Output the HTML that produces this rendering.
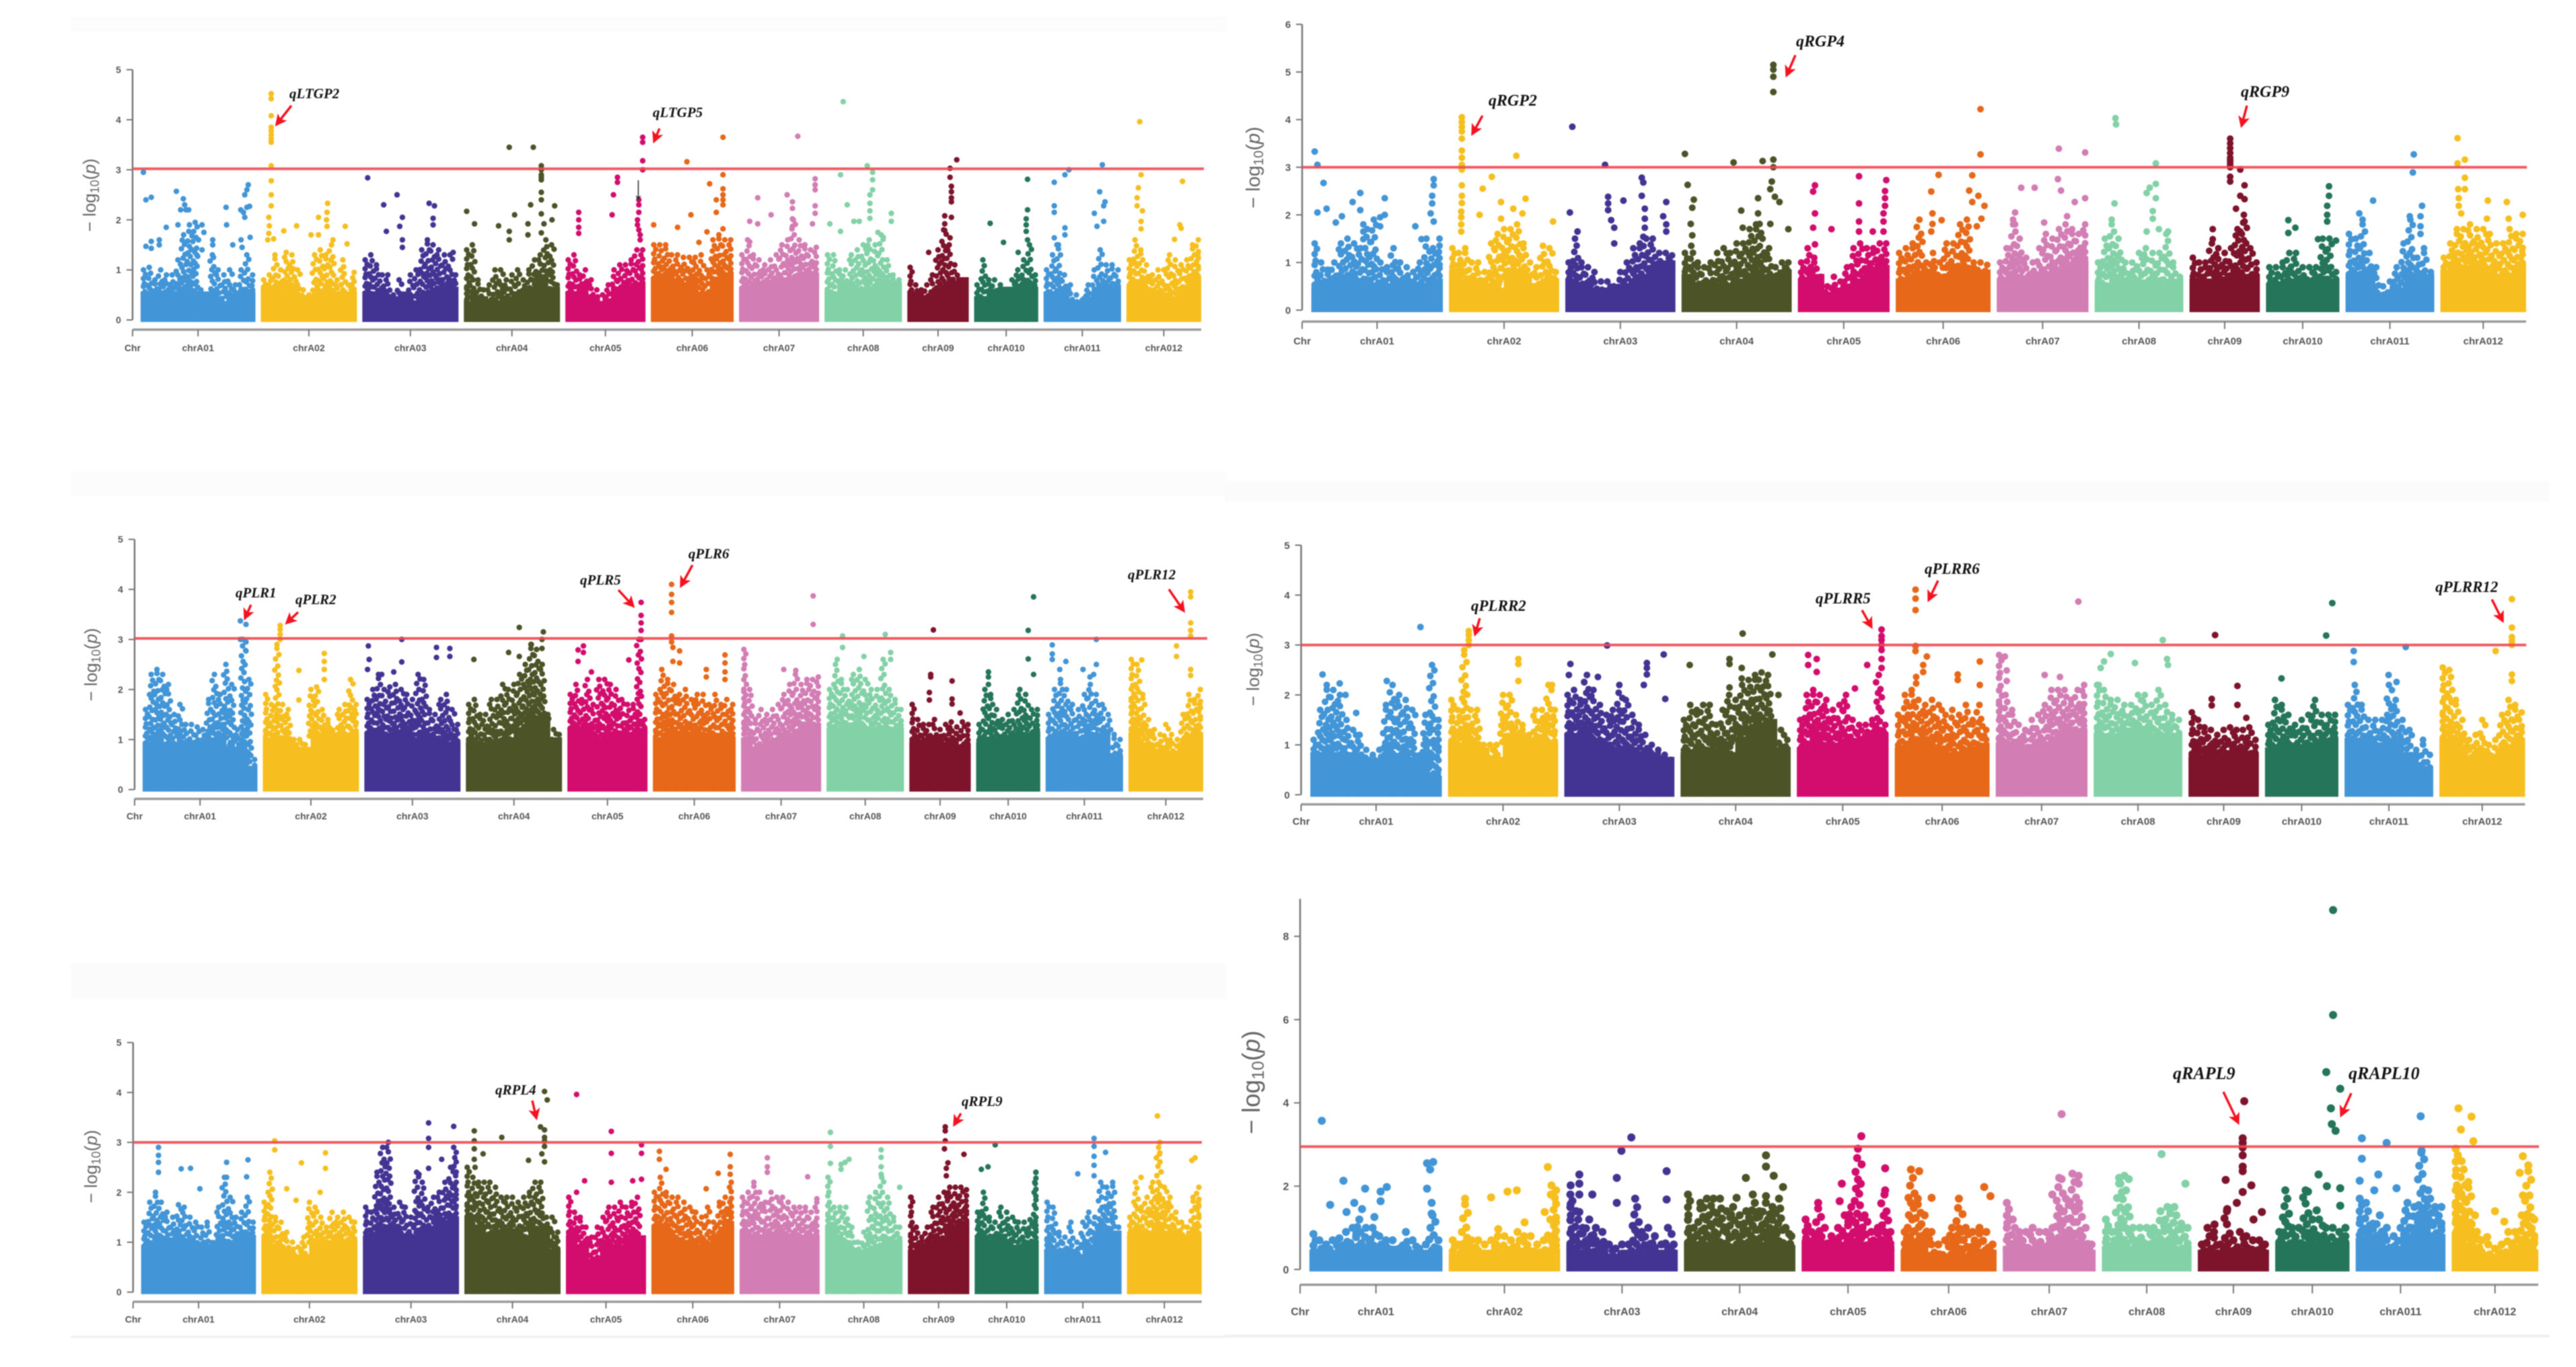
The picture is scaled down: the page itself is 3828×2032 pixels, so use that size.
<!DOCTYPE html>
<html lang="en">
<head>
<meta charset="utf-8">
<title>Manhattan plots</title>
<style>
html,body{margin:0;padding:0;background:#fff;}
#figure{display:block;width:3828px;height:2032px;filter:blur(0.7px);}
.q{font-family:"Liberation Serif",serif;font-weight:bold;font-style:italic;fill:#111;}
.yt{font-family:"Liberation Sans",sans-serif;fill:#666;}
.tk{font-family:"Liberation Sans",sans-serif;font-weight:bold;fill:#555;}
.arr{stroke:#f5121f;stroke-width:3.5;fill:none;}
</style>
</head>
<body>
<svg id="figure" xmlns="http://www.w3.org/2000/svg" width="3828" height="2032" viewBox="0 0 3828 2032">
<defs>
<marker id="ah" markerWidth="5" markerHeight="5" refX="4" refY="2.5" orient="auto"><path d="M0,0L5,2.5L0,5L1.2,2.5Z" fill="#f5121f"/></marker>
<marker id="ak" markerWidth="5" markerHeight="5" refX="4" refY="2.5" orient="auto"><path d="M0,0L5,2.5L0,5L1.2,2.5Z" fill="#333"/></marker>
</defs>
<rect width="3828" height="2032" fill="#fff"/>
<rect x="105" y="25" width="1717" height="22" fill="#fcfcfc"/>
<rect x="105" y="700" width="1717" height="38" fill="#fcfcfc"/>
<rect x="1820" y="715" width="1968" height="31" fill="#fbfbfb"/>
<rect x="105" y="1432" width="1717" height="53" fill="#fbfbfb"/>
<rect x="105" y="1985" width="1717" height="4" fill="#f2f2f2"/>
<rect x="1820" y="1984" width="1968" height="4" fill="#efefef"/>

<g id="panels"></g>

<g>
<text class="yt" font-size="26" transform="translate(142,290) rotate(-90)" text-anchor="middle">− log<tspan font-size="18" dy="5">10</tspan><tspan dy="-5">(</tspan><tspan font-style="italic">p</tspan>)</text>
<text class="yt" font-size="29" transform="translate(1872,249) rotate(-90)" text-anchor="middle">− log<tspan font-size="20" dy="5">10</tspan><tspan dy="-5">(</tspan><tspan font-style="italic">p</tspan>)</text>
<text class="yt" font-size="26" transform="translate(144,988) rotate(-90)" text-anchor="middle">− log<tspan font-size="18" dy="5">10</tspan><tspan dy="-5">(</tspan><tspan font-style="italic">p</tspan>)</text>
<text class="yt" font-size="26" transform="translate(1871,995) rotate(-90)" text-anchor="middle">− log<tspan font-size="18" dy="5">10</tspan><tspan dy="-5">(</tspan><tspan font-style="italic">p</tspan>)</text>
<text class="yt" font-size="26" transform="translate(144,1734) rotate(-90)" text-anchor="middle">− log<tspan font-size="18" dy="5">10</tspan><tspan dy="-5">(</tspan><tspan font-style="italic">p</tspan>)</text>
<text class="yt" font-size="37" transform="translate(1872,1609) rotate(-90)" text-anchor="middle">− log<tspan font-size="25" dy="6">10</tspan><tspan dy="-6">(</tspan><tspan font-style="italic">p</tspan>)</text>
</g>

<g>
<text class="q" x="430" y="146" font-size="21">qLTGP2</text>
<text class="q" x="970" y="174" font-size="21">qLTGP5</text>
<line class="arr" x1="433" y1="157" x2="411" y2="185" marker-end="url(#ah)"/>
<line class="arr" x1="980" y1="191" x2="972" y2="210" marker-end="url(#ah)"/>
<line x1="948.5" y1="268" x2="948.5" y2="297" stroke="#333" stroke-width="1.6" marker-end="url(#ak)"/>

<text class="q" x="2212" y="157" font-size="24">qRGP2</text>
<text class="q" x="2669" y="69" font-size="24">qRGP4</text>
<text class="q" x="3330" y="144" font-size="24">qRGP9</text>
<line class="arr" x1="2203" y1="172" x2="2188" y2="199" marker-end="url(#ah)"/>
<line class="arr" x1="2668" y1="82" x2="2655" y2="112" marker-end="url(#ah)"/>
<line class="arr" x1="3339" y1="157" x2="3331" y2="187" marker-end="url(#ah)"/>

<text class="q" x="350" y="888" font-size="21">qPLR1</text>
<text class="q" x="439" y="898" font-size="21">qPLR2</text>
<text class="q" x="862" y="869" font-size="21">qPLR5</text>
<text class="q" x="1023" y="830" font-size="21">qPLR6</text>
<text class="q" x="1676" y="861" font-size="21">qPLR12</text>
<line class="arr" x1="373" y1="899" x2="364" y2="919" marker-end="url(#ah)"/>
<line class="arr" x1="443" y1="910" x2="426" y2="926" marker-end="url(#ah)"/>
<line class="arr" x1="919" y1="877" x2="941" y2="901" marker-end="url(#ah)"/>
<line class="arr" x1="1029" y1="840" x2="1012" y2="871" marker-end="url(#ah)"/>
<line class="arr" x1="1737" y1="876" x2="1759" y2="908" marker-end="url(#ah)"/>

<text class="q" x="2186" y="908" font-size="23">qPLRR2</text>
<text class="q" x="2698" y="897" font-size="23">qPLRR5</text>
<text class="q" x="2860" y="853" font-size="23">qPLRR6</text>
<text class="q" x="3619" y="880" font-size="23">qPLRR12</text>
<line class="arr" x1="2199" y1="919" x2="2192" y2="943" marker-end="url(#ah)"/>
<line class="arr" x1="2767" y1="907" x2="2781" y2="932" marker-end="url(#ah)"/>
<line class="arr" x1="2880" y1="863" x2="2866" y2="892" marker-end="url(#ah)"/>
<line class="arr" x1="3703" y1="891" x2="3719" y2="923" marker-end="url(#ah)"/>

<text class="q" x="736" y="1627" font-size="21">qRPL4</text>
<text class="q" x="1429" y="1644" font-size="21">qRPL9</text>
<line class="arr" x1="791" y1="1636" x2="797" y2="1662" marker-end="url(#ah)"/>
<line class="arr" x1="1428" y1="1655" x2="1418" y2="1672" marker-end="url(#ah)"/>

<text class="q" x="3229" y="1604" font-size="26">qRAPL9</text>
<text class="q" x="3490" y="1604" font-size="26">qRAPL10</text>
<line class="arr" x1="3304" y1="1623" x2="3326" y2="1669" marker-end="url(#ah)"/>
<line class="arr" x1="3494" y1="1625" x2="3479" y2="1658" marker-end="url(#ah)"/>
</g>
</svg>

<script>
const chrNames=['chrA01','chrA02','chrA03','chrA04','chrA05','chrA06','chrA07','chrA08','chrA09','chrA010','chrA011','chrA012'];
const chrLengths=[43,36,36,36,30,31,30,29,23,24,29,28];
const chrColors=['#4295d6','#f6bf1f','#433494','#4c5327','#d30d6d','#e66818','#d37db5','#83d1a7','#7d142c','#24755a','#4295d6','#f6bf1f'];

const ltgpTicks=[0,1,2,3,4,5];
const ltgpTops=[
[1.0,1.05,.8,1.0,.9,.9,1.2,1.7,1.9,1.95,.6,.4,1.3,1.0,.9,1.0,.7,1.0,1.3,.9],
[.8,.9,1.3,1.0,1.35,1.3,1.0,.6,.5,1.3,1.4,1.3,1.5,.8,1.2,.7,.95],
[1.2,1.3,1.1,.9,.9,.5,.8,.4,.9,1.0,1.4,1.6,1.5,1.4,1.3,1.3,.9],
[1.4,1.5,.8,.6,.7,1.0,1.0,.8,.9,1.0,.8,1.0,1.2,1.3,1.6,1.5,.7],
[1.2,1.3,.9,1.0,.8,.6,.5,.7,1.0,1.1,1.1,1.2,1.4,1.4],
[1.5,1.5,1.5,1.3,1.3,1.25,1.25,1.25,1.3,1.0,1.6,1.7,1.6,1.6],
[1.3,1.6,1.3,1.2,1.1,1.2,1.3,1.5,1.6,2.0,1.6,1.5,1.4,1.45],
[1.3,1.3,1.0,1.0,1.3,1.4,1.5,1.6,1.5,1.7,1.2,.9,.8],
[1.05,.7,.6,.7,.9,1.4,1.8,1.5,1.1,.8,.7],
[.7,1.2,.8,.8,.7,.6,.8,1.0,1.2,1.5,.9],
[1.0,1.3,1.5,.9,.7,.5,.4,.7,1.0,1.4,1.1,1.1,1.0],
[1.2,1.6,1.4,1.1,.9,1.0,1.0,1.3,1.2,1.1,1.2,1.5,1.6]];
const ltgpSolid=[
[.6,.6,.6,.6,.6,.6,.6,.6,.4,.5,.6,.6],
[.7,.6,.7,.5,.5,.6,.6,.6],
[.6,.6,.5,.6,.4,.6,.7,.7],
[.4,.5,.4,.5,.6,.7,.9,.7],
[.6,.7,.5,.4,.7,.7,.8],
[.9,1.0,.8,.9,.6,.9,1.0],
[.7,.8,.8,.8,.9,1.0,1.0],
[.6,.8,.7,.7,.8,.8],
[.6,.5,.6,.8,.9],
[.5,.6,.7,.7,.7],
[.6,.6,.4,.5,.7,.7],
[.7,.7,.6,.5,.7,.9]];
const ltgpHits=[
[.8,2.95,2,2.4,4,2.45,4,1.57,2,1.47,4,1.43,7,1.6,7,1.5,9.6,1.85,13.4,2.57,16,2.42,16.5,2.3,15,2.2,17,2.2,18,2.2,14,1.9,23,1.9,21.7,1.6,23.7,1.75,27,1.6,27,1.5,27.3,1.25,32,2.25,32.2,1.9,34.5,1.5,37.6,1.6,38,1.45,41,1.65,39,2.5,39.8,2.6,40.3,2.7,37.5,2.2,39,2.05,39.8,2.25,40.8,2.27,38.5,2.15,21,1.3,23,1.4],
[3.9,4.52,3.9,4.42,3.9,4.08,3.9,3.85,3.9,3.78,3.9,3.7,3.9,3.62,3.9,3.55,3.9,3.08,3.9,2.78,3.9,2.5,3.9,2.28,3,2.05,3.2,1.88,3,1.73,4.8,1.62,2.6,1.6,8.6,1.78,13.4,1.88,21.6,2.05,25,2.33,24.8,2.15,24.6,2,24.8,1.87,18.8,1.7,21.6,1.7,31.6,1.87,32.3,1.52,27,1.6],
[2,2.84,13,2.5,8,2.3,15,2.05,14,1.87,9,1.77,25,2.33,27,2.28,26.5,2.03,26.5,1.9,15,1.6,15,1.45,34,1.35],
[17,3.45,26,3.45,29,3.08,29,3,29,2.9,29,2.85,29,2.8,29,2.55,29,2.4,25,2.3,34,2.28,1,2.17,4,1.92,19,2.1,29,2.12,13,1.88,17,1.77,24,1.92,30,1.92,33,2,29,1.74,17,1.6,24,1.7],
[5,2.15,5,2,5,1.85,5,1.73,19.5,2.85,19.5,2.75,18,2.5,17.5,2.1,29,3.65,29,3.55,29,3.18,29,3,27.5,2.4,27.5,2.3,27.5,2.15,27,2,27,1.9,27.5,1.8,28,1.7,28,1.6],
[27,3.65,13.5,3.16,27,2.9,22,2.72,27,2.62,27,2.5,24.5,2.4,27,2.4,27,2.3,24.5,2.15,15,2.1,1,1.9,10,1.85,27,1.82,21,1.76,18,1.55],
[22,3.67,28.5,2.82,28.5,2.7,28.5,2.6,7,2.44,18,2.5,20,2.36,20,2.23,12,2.1,28.5,2.28,28.5,2.13,27.5,1.92,4,1.97,7,1.92,20,2.02,20,1.87,4,1.56],
[7,4.36,16,3.08,6,2.9,18,2.95,18,2.8,18,2.6,17,2.5,17,2.33,8.5,2.3,17,2.18,25,2.13,25,1.97,13,1.97,11,1.97,2,1.92,6,1.77,17,2.03,20,1.75,22,1.65],
[18.5,3.2,16,3.03,16,2.85,16.5,2.67,16.5,2.56,16.5,2.44,16.5,2.36,14,2.08,16.5,2.05,14,1.92,14,1.79,16,1.64,15,1.46,8,1.35],
[20,2.81,20,2.2,19.5,2.02,19.5,1.9,19.5,1.77,6,1.93,11,1.55,20,1.6,16.5,1.35],
[22,3.1,9.5,3,8,2.9,4,2.75,21,2.56,4,2.28,4,2.15,23,2.36,22.5,2.28,19,2.13,22.5,1.97,20,1.87,8,1.84,8,1.7,4,1.64,5,1.5],
[5,3.96,5.5,2.9,4.5,2.64,4,2.44,4,2.28,6,2.18,5.5,1.97,5.5,1.82,21,2.77,20,1.9,20.5,1.83,18,1.61]];

const rgpTicks=[0,1,2,3,4,5,6];
const rgpTops=[
[1.4,1.0,.85,1.0,1.4,1.5,1.4,1.3,1.7,1.9,1.0,.9,1.3,1.0,.9,.8,1.0,1.5,1.3,1.5],
[1.3,1.2,1.3,1.0,1.0,.8,1.4,1.6,1.7,1.7,1.8,1.4,1.0,.9,1.35,1.3,.8],
[1.0,1.5,1.0,.9,.8,.6,.6,.5,.8,1.0,1.3,1.4,1.5,1.5,1.2,1.2,1.15],
[1.2,1.35,1.0,.9,1.0,1.2,1.3,1.2,1.4,1.4,1.7,1.8,1.5,1.3,.9,1.0,1.0],
[1.0,1.3,1.1,.7,.5,.7,.6,.9,1.3,1.4,1.3,1.3,1.4,1.4],
[1.2,1.3,1.4,1.9,1.0,1.2,1.0,1.4,1.4,1.8,1.9,1.0,1.0,.95],
[1.0,1.3,1.9,1.5,1.1,1.0,1.3,1.6,1.5,1.7,1.8,1.7,1.6,1.8],
[1.0,1.5,1.9,1.5,1.0,1.0,1.2,1.3,1.2,1.2,1.6,1.0,.7],
[1.1,1.0,1.0,1.4,1.3,1.2,1.3,1.7,2.0,1.3,1.0],
[.9,.9,1.0,1.2,1.2,.9,.9,.9,1.5,1.5,.8],
[1.6,1.5,1.9,1.2,.9,.5,.6,.9,1.4,1.9,1.1,1.3,.8],
[1.1,1.4,1.7,1.7,1.8,1.7,1.7,1.6,1.4,1.4,1.7,1.6,1.6]];
const rgpSolid=[
[.5,.7,.7,.7,.6,.6,.7,.7,.6,.7],
[.9,.7,.6,.5,.8,.8,.6,.7],
[.7,.6,.5,.5,.6,.8,1.0,1.1],
[.8,.6,.6,.6,.7,.9,.8,.9],
[.7,.8,.4,.5,.7,.9,1.0],
[.7,.8,.9,.8,.9,.9,.9],
[.7,.8,.7,.8,.9,1.0,1.1],
[.6,.8,.7,.6,.6,.7],
[.7,.7,.7,.8,.8],
[.6,.7,.7,.7,.7],
[.8,.8,.4,.5,.8,.8],
[.9,1.0,1.1,.9,.8,1.0]];
const rgpHits=[
[1,3.33,2,3.05,4,2.67,2,2.05,5,2.13,8,1.84,10,1.97,13.5,2.27,16,2.46,16,2.1,24,2.35,22.5,1.95,24,2,34,1.76,40,2.75,40,2.62,39.5,2.4,39.5,2.24,39,2.03,40,1.86,36,1.49,22.5,1.76,17,1.8,17,1.65,17,1.49],
[4.2,4.05,4.2,3.95,4.2,3.85,4.2,3.75,4.2,3.6,4.2,3.35,4.2,3.2,4.2,3.05,4.2,3,4.2,2.95,4.2,2.62,4.2,2.4,4.2,2.25,4,2.07,4,1.95,4,1.8,4,1.65,22,3.24,14,2.8,11,2.55,25,2.34,17,2.27,21,2.13,10,2,17,1.92,24,2.03,34,1.86],
[2.3,3.85,13,3.05,25,2.78,25.5,2.68,1.5,2.05,14,2.38,14,2.24,14,2.1,15,1.89,16,1.73,19,2.3,25,2.4,26,2.13,26,1.92,26,1.73,33,2.27,32,1.97,33,1.8,33,1.65,4,1.65,16,1.4,25.5,1.54],
[30,5.15,30,5.05,30,4.9,30,4.58,1,3.28,17,3.1,26.5,3.13,30,3.16,30,3,2,2.63,29.5,2.7,29,2.54,25,2.35,30.5,2.38,32,2.27,4,2.32,3.5,2.15,19.5,2.09,25,2.03,3,1.81,20,1.73,25.5,1.81,29,1.81,35,1.7,26,1.62,3.5,1.57],
[20,2.81,5.6,2.62,5,2.49,29,2.73,28.5,2.5,28.5,2.35,28.5,2.19,20,2.24,5.6,2.03,5,1.73,11,1.7,20,1.86,28,2.03,28,1.86,28,1.65,20,1.65,24.5,1.65,5.6,1.38],
[27.7,4.22,27.7,3.27,14,2.84,25,2.83,11.6,2.49,24,2.51,27,2.4,25,2.27,29,2.19,12,2.03,15,1.89,12,1.81,11.6,1.65,28,1.92,26.5,1.76],
[20.3,3.39,29,3.31,20,2.75,8,2.57,12.4,2.57,21,2.51,29.5,2.35,25.5,2.27,6,2.05,15.5,1.84,23,1.97,6,1.8],
[6.8,4.03,7,3.9,20,3.08,20,2.65,18,2.57,20,2.35,17,2.46,6.5,2.24,19,2.08,19,1.92,17,1.65,21,1.7,24,1.65],
[13.3,3.6,13.3,3.5,13.3,3.4,13.3,3.3,13.3,3.2,13.3,3.15,13.3,3.1,13.3,3.05,13.3,3,13.3,2.8,13.3,2.7,16.6,2.95,18,2.62,16.6,2.4,18,2.33,15.2,2.13,18,1.86,7.6,1.7,7.6,1.49,16.6,1.65],
[20.6,2.6,20.6,2.4,20,2.19,20,2,20,1.86,7.3,1.89,9.6,1.73,7.3,1.62,23,1.46,17,1.49],
[22.3,3.27,22,2.89,9,2.3,25,2.19,4.5,2.03,21,1.97,24.5,1.97,24.5,1.76,24.5,1.6],
[5.6,3.61,8,3.16,5.6,3.08,8,2.78,5.8,2.54,8,2.54,6,2.35,6,2.19,15.5,2.3,21.7,2.27,28,2,6.8,2.03,15.2,1.92,22.3,1.92]];

const plrTicks=[0,1,2,3,4,5];
const plrTops=[
[1.6,2.3,2.4,2.3,2.1,1.5,1.7,1.3,1.3,1.25,1.2,1.8,2.3,1.9,2.5,2.1,1.2,3.0,2.2,.6],
[1.9,1.7,2.9,1.7,1.6,1.0,1.0,.9,2.0,2.05,1.6,1.4,1.1,1.6,1.7,2.2,1.7],
[1.8,2.0,2.3,2.0,2.05,2.1,2.0,1.9,1.8,2.3,2.2,1.6,1.5,1.8,1.9,1.6,1.3],
[1.7,1.8,1.5,1.5,1.8,1.8,2.1,2.0,2.1,2.3,2.5,2.9,2.8,2.5,1.5,1.2,1.1],
[1.9,2.1,1.8,2.2,1.7,2.2,2.2,2.1,2.0,1.8,1.7,1.7,3.0,1.4],
[1.9,2.4,2.2,2.1,1.9,2.0,1.8,1.9,1.9,1.7,1.9,1.7,1.8,1.7],
[2.8,2.0,1.4,1.6,1.5,1.6,1.7,1.9,2.1,2.3,2.1,2.2,2.2,2.25],
[2.0,2.5,2.2,2.0,2.3,2.4,2.2,2.0,2.0,2.6,2.0,1.8,1.6],
[1.7,1.4,1.3,1.3,1.4,1.2,1.3,1.35,1.25,1.35,1.3],
[1.3,2.0,1.9,1.6,1.4,1.5,1.6,2.0,1.9,1.6,1.6],
[1.5,2.0,2.2,2.0,1.7,1.6,1.9,2.1,1.9,1.7,1.5,1.1,1.0],
[2.6,2.5,1.9,1.4,1.2,1.1,1.3,1.1,1.0,1.5,1.9,1.8,2.0]];
const plrSolid=[
[1.0,1.1,1.0,1.0,1.0,1.0,1.1,1.2,.9,1.0,.5],
[1.1,1.1,1.0,.9,1.2,1.3,1.2,1.2],
[1.2,1.2,1.2,1.3,1.1,1.1,1.1,1.0],
[1.0,1.0,1.0,1.1,1.3,1.5,1.6,1.1],
[1.3,1.3,1.1,1.2,1.2,1.2,1.3],
[1.1,1.3,1.2,1.2,1.2,1.1,1.1],
[1.1,.9,1.0,1.1,1.2,1.4,1.4],
[1.3,1.4,1.4,1.3,1.3,1.3],
[1.0,1.1,1.0,1.1,.95],
[1.0,1.1,1.1,1.2,1.2],
[1.1,1.2,1.1,1.2,1.2,.7],
[1.2,1.0,.8,.8,1.0,1.2]];
const plrHits=[
[36.6,3.37,38.7,3.3,36.6,3,38.7,2.95,38.7,2.77],
[6.5,3.28,6.5,3.2,6.5,3.1,6.5,3,23,2.72,23,2.56,23,2.4,13.5,2.38,23,2.2,13.5,1.79],
[1.5,2.87,1.8,2.6,1.2,2.4,14,3,14,2.55,27,2.84,27,2.64,32,2.82,32,2.66,11,2.35,6.5,2.3],
[20,3.24,29,3.15,28.5,3,24.5,2.9,3,2.6,16,2.74,20,2.66,28.5,2.82],
[27.6,3.74,27.6,3.48,27.6,3.33,27.6,3.18,27.6,3,6,2.87,4,2.79,6,2.74,4,2.56,23,2.59,9,2.35],
[7,4.1,7,3.9,7,3.74,7,3.54,7,3.07,7,2.95,7.5,2.84,10,2.77,7.5,2.56,10,2.53,20,2.4,27,2.69,27,2.53,27,2.35,27,2.2,20,2.25],
[27,3.87,27,3.3,16,2.4,20.5,2.38],
[6,3.07,22,3.1,6,2.84,4,2.6,14,2.66,24,2.74,24,2.6],
[9,3.19,8,2.3,8,2.25,16,2.17,7.5,1.94,7.5,1.79,16,1.81,16,1.71,19,1.53],
[21.5,3.85,19.5,3.18,19.5,2.61,21.5,2.3,4.6,2.35,4.6,2.25,4.6,2.1],
[19,3,2.5,2.89,2.5,2.71,2.5,2.6,7.6,2.56,5.3,2.4,14,2.4,19,2.5,18,2.3,16.6,2.25],
[23.3,3.95,23.3,3.85,23.3,3.33,23.3,3.18,23.3,3.07,18,2.87,18,2.66,23.3,2.4,23.3,2.28,5,2.59]];

const plrrTicks=[0,1,2,3,4,5];
const plrrTops=[
[1.1,1.7,2.2,2.1,2.0,1.5,1.3,1.2,.9,.8,.9,1.8,2.2,2.0,1.9,1.7,.7,1.6,2.6,1.5],
[1.9,1.7,2.9,1.7,1.7,1.0,1.0,1.0,2.0,2.0,1.6,1.4,1.2,1.7,1.7,2.2,1.7],
[2.0,2.1,1.9,2.4,2.1,1.8,1.6,1.7,2.2,1.9,1.6,1.4,1.2,1.0,.9,.8,.7],
[1.5,1.8,1.7,1.8,1.8,1.4,1.7,2.0,1.9,2.2,2.3,2.4,2.45,2.4,1.4,1.3,1.1],
[1.5,2.0,2.1,2.0,1.9,1.7,1.8,2.0,1.5,1.4,1.4,1.5,2.4,1.4],
[1.6,2.0,2.1,1.9,1.8,1.9,1.8,1.6,1.7,1.6,1.8,1.5,1.8,1.3],
[2.8,2.0,1.7,1.4,1.3,1.5,1.6,1.8,2.1,2.1,2.1,1.9,2.1,2.2],
[2.2,2.1,1.9,1.9,1.8,1.8,2.0,2.0,1.8,2.1,1.8,1.6,1.5],
[1.65,1.5,1.35,1.3,1.2,1.3,1.35,1.3,1.3,1.35,1.1],
[1.4,1.9,1.8,1.6,1.4,1.5,1.6,1.9,1.6,1.6,1.6],
[1.8,2.2,1.8,1.5,1.5,1.5,2.2,1.9,1.5,1.3,.9,1.1,.8],
[2.55,2.5,1.9,1.5,1.1,1.2,1.5,1.0,1.1,1.6,1.9,1.8,1.65]];
const plrrSolid=[
[.9,1.0,.9,.9,.8,.7,.9,.8,.8,.9,.4],
[1.1,1.2,1.0,.8,1.2,1.2,1.2,1.1],
[1.3,1.4,1.2,1.0,1.0,.9,.9,.8],
[.9,.9,1.0,.9,1.2,1.5,1.6,1.0],
[1.0,1.3,1.1,1.1,1.2,1.3,1.3],
[1.0,1.2,1.1,1.0,.9,1.0,1.1],
[1.1,1.0,1.0,1.1,1.2,1.4,1.4],
[1.3,1.3,1.4,1.4,1.3,1.3],
[.8,1.0,.9,1.0,.9],
[1.0,1.1,1.0,1.1,1.2],
[1.2,1.2,1.1,1.2,.9,.6],
[1.2,1.0,.8,.8,1.0,1.2]];
const plrrHits=[
[36,3.36,4,2.41,25,2.28,9.6,2.23,11.5,2,15,1.64],
[6.8,3.28,6.8,3.2,6.8,3.1,6.8,3,23,2.72,23,2.62,23,2.28,34,2.2],
[14,2.99,32.5,2.81,27,2.64,27,2.54,27,2.41,2,2.62,1.5,2.4,6.5,2.26,11,2.36,26,2.2,33,1.92],
[20.3,3.23,30,2.81,3,2.6,16,2.72,16,2.62,20,2.54,20,2.33,32,2,16,2.15],
[27.7,3.31,27.7,3.18,27.7,3.1,27.7,3,27.7,2.9,27.7,2.72,27.7,2.54,3.7,2.8,6.5,2.72,3.7,2.6,6.5,2.46,23,2.6,19,2.13],
[6.8,4.11,6.8,3.93,6.8,3.7,6.8,2.98,6.8,2.88,10.5,2.77,9.3,2.6,9.3,2.46,7,2.36,7,2.23,20.6,2.41,20.6,2.3,27.8,2.67,27.8,2.2],
[27,3.87,16,2.4,21,2.36,3,2.77,3.6,2.49,3.6,2.28],
[22.6,3.1,5.6,2.82,3.4,2.67,13.5,2.64,24,2.72,24.3,2.6,2.3,2.54,1.7,2.2],
[8.7,3.2,16,2.18,16,1.8,7.6,1.92,7.6,1.79,18.9,1.54],
[22,3.84,20,3.19,5.4,2.33],
[20,2.96,3,2.88,3,2.66,14.4,2.4,17,2.26],
[23.7,3.92,23.7,3.35,23.7,3.16,23.7,3.08,23.7,3,18.4,2.88,23.7,2.41,23.7,2.28]];

const rplTicks=[0,1,2,3,4,5];
const rplTops=[
[1.4,1.8,2.0,1.8,1.6,1.5,1.75,1.7,1.5,1.4,1.3,1.4,.9,1.7,2.3,1.9,1.5,1.6,1.9,1.4],
[1.8,2.4,1.5,1.4,1.2,1.0,.9,1.1,1.8,1.7,1.5,1.3,1.6,1.5,1.6,1.5,1.4],
[1.7,1.6,2.4,2.9,3.0,1.7,1.8,1.7,1.5,2.4,2.2,1.7,1.9,2.0,2.2,2.5,2.8],
[2.5,2.3,2.2,2.2,2.2,2.1,1.9,1.9,1.9,1.8,1.9,2.0,2.2,2.2,1.5,1.5,1.2],
[1.9,1.6,1.5,1.3,1.1,1.3,1.5,1.7,1.7,1.8,1.7,1.8,1.9,1.0],
[2.0,2.3,2.0,1.9,1.9,1.8,1.7,1.6,1.5,1.7,1.4,1.8,1.9,2.2],
[1.9,2.0,2.2,2.0,1.8,2.0,1.9,1.9,1.8,1.7,1.7,1.7,1.6,1.8],
[2.3,1.7,1.7,1.7,1.3,1.0,1.2,1.9,2.0,2.3,1.9,1.5,1.3],
[1.9,1.3,1.1,1.3,1.7,1.9,2.0,2.1,2.1,2.1,2.05],
[1.6,2.0,1.5,1.4,1.7,1.6,1.5,1.4,1.4,1.45,2.4],
[1.8,1.7,1.2,1.1,1.4,1.0,1.4,1.6,1.5,2.2,2.1,2.2,1.3],
[1.5,2.2,1.7,1.9,2.2,2.9,2.1,1.9,1.6,1.4,1.3,1.9,2.1]];
const rplSolid=[
[1.0,1.2,1.1,1.1,1.1,1.0,1.1,1.1,1.2,1.2],
[1.2,1.0,.8,.8,1.1,1.1,1.1,1.1],
[1.2,1.4,1.4,1.2,1.2,1.4,1.5,1.6],
[1.6,1.4,1.2,1.3,1.3,1.2,1.3,1.4,.9],
[1.2,1.0,.7,1.0,1.0,1.2,1.2],
[1.4,1.3,1.1,1.1,1.0,1.2,1.5],
[1.3,1.2,1.2,1.3,1.2,1.2,1.2],
[1.4,1.1,.9,.9,1.0,1.1],
[.9,1.0,1.1,1.4,1.5],
[1.2,1.1,1.1,1.0,1.1],
[.9,.9,.8,1.0,1.3,1.3],
[1.2,1.3,1.4,1.3,1.2,1.2]];
const rplHits=[
[6.5,2.9,6.5,2.74,6.5,2.6,6.5,2.4,15,2.47,18.5,2.48,32,2.6,40,2.65,39.5,2.31,22,2.07,32,2.3],
[5,3.03,5,2.85,24,2.79,24,2.48,15,2.59,9.5,2.07,22,2,13,1.84],
[24.6,3.39,24.6,3.08,34,3.32,34,2.9,29.5,2.66,24.6,2.9,24.6,2.48,21,2.36],
[30,4.02,31,3.85,28.5,3.31,30,3.25,30,3.1,30,3.03,30,2.92,29,2.77,24,2.64,30,2.61,3.7,3.23,14,3.1,3.7,3.03,3.7,2.87,7,2.77,3.7,2.66,4,2.5],
[4,3.96,17,3.22,17,2.78,28.3,2.95,28.3,2.78,7,2.23,17,2.2,25,2.23,28.3,2.26,4,2],
[3,2.82,3,2.66,5.5,2.46,29.5,2.76,29.5,2.51,29.5,2.36,25,2.38,20.5,2.07],
[10.4,2.69,10.4,2.51,10.4,2.4,25.5,2.31,29,1.87],
[2,3.2,2,2.92,2,2.58,6,2.56,9,2.66,7.5,2.6,21,2.85,21,2.7,21,2.51,21,2.36,6,2.46,28,2.1],
[14,3.31,14,3.23,14,3.03,13.7,2.87,21,2.76,15,2.59,14.4,2.48,14.4,2.33,1.2,1.9],
[7.7,2.95,2.5,2.46,5,2.51,23,2.4,22.5,2.2],
[18.7,3.08,18.7,2.92,23,2.8,18.7,2.72,18.7,2.54,12.6,2.37,18.7,2.33],
[11.4,3.53,12.3,3,12.3,2.79,25.5,2.69,24.3,2.64,5.3,2.3]];

const raplTicks=[0,2,4,6,8];
const raplTops=[
[.85,.7,.6,.7,.75,.9,1.0,1.2,1.0,1.0,.8,.7,.7,.5,.9,.7,.5,.6,1.3,.7],
[.7,.6,1.7,.7,.7,.6,.7,.8,.8,.7,.9,.8,.8,.6,.7,1.2,1.9],
[1.8,1.4,1.0,1.2,1.0,.9,.6,.5,.6,.6,1.7,.9,1.0,.8,.6,1.0,.6],
[1.8,1.0,1.6,1.7,1.7,1.7,1.4,1.5,1.3,1.4,1.8,1.4,1.6,1.5,1.7,1.0,.8],
[1.2,.9,1.6,1.0,.8,1.0,1.3,1.5,2.9,1.3,.9,1.0,1.8,.9],
[.9,2.4,1.7,1.3,.9,.6,.7,1.0,1.7,1.0,.9,1.0,.9,.6],
[1.6,1.2,.9,.9,1.0,.9,.9,1.0,2.2,1.7,2.3,1.6,1.0,.6],
[1.2,.9,2.2,1.9,1.0,1.0,1.0,1.0,1.4,1.5,1.5,1.1,1.0],
[.6,1.0,.9,.6,1.4,.7,.9,.8,.7,.7,.6],
[.9,1.9,1.0,1.0,1.9,1.2,1.2,1.0,1.0,.9,1.0],
[1.7,1.6,1.1,1.3,1.0,.8,1.0,1.6,1.5,2.8,1.9,1.5,1.5],
[2.9,2.6,2.1,1.3,.7,.6,.5,.6,.9,.9,1.3,2.5,1.2]];
const raplSolid=[
[.5,.5,.5,.6,.6,.6,.6,.5,.5,.5],
[.4,.5,.5,.5,.5,.5,.5,.5],
[.6,.5,.5,.4,.5,.5,.5,.5],
[.7,.7,.6,.6,.7,.7,.7,.6],
[.7,.6,.6,.7,.7,.8,.6],
[.5,.7,.4,.4,.4,.5,.5],
[.6,.5,.5,.6,.7,.7,.5],
[.6,.6,.7,.6,.7,.6],
[.5,.5,.5,.5,.5],
[.7,.7,.7,.7,.7],
[.8,.7,.6,.9,1.2,.9],
[.9,.6,.4,.4,.6,.5]];
const raplHits=[
[4,3.57,11,2.13,6.7,1.55,18,1.94,25,1.98,23,1.87,14.5,1.6,23,1.64,12,1.38,17,1.45,21,1.26,38,2.55,40,2.58,39,2.4,38,1.94,39.5,1.6,39.5,1.34],
[32,2.46,33.2,2.02,33,1.8,13.7,1.73,19,1.87,22,1.9,24.5,1.13,16,.97,31,1.38],
[21,3.17,17.8,2.85,16.3,2.2,16.3,1.6,32.4,2.36,32.4,1.68,4.2,2.28,4.2,2.06,1.4,2.02,1.4,1.57,8.4,1.8,4.2,1.8,4.2,1.38],
[26.5,2.74,26.5,2.47,29,2.25,20,2.2,32,1.98,26.5,1.76,17,1.72,23,1.38],
[19.3,3.2,27,2.43,27,1.9,13,2.06,12.3,1.64],
[6,2.36,10,1.72,27,1.98,29,1.76],
[19,3.73,19,2.17,24.5,2.25,24.5,2.06,16,1.8],
[19.3,2.77,27,2.06,7.3,2.25,6,2.06,8.7,2.17],
[15,4.04,14.5,3.15,14.5,3.04,14.5,2.93,14.5,2.74,14.5,2.47,14.5,2.36,17.3,2.02,9,2.15,14.5,1.86,12.6,1.6,20.7,1.38,18,1.2,9.5,1.45,5.4,1.08],
[18.7,8.63,18.7,6.11,16.5,4.74,21,4.34,18,3.87,18.3,3.49,19.5,3.33,14,2.28,16.7,2,21,1.95,10.6,1.87,13.4,1.42,21,1.53],
[21,3.68,2,3.15,2,2.66,10,3.04,7.3,2.28,.6,2.13,6,1.9,13.2,1.95,21.3,2.85],
[2.2,3.87,6.4,3.67,3,3.36,7,3.08,23,2.72,22,2.32,23,1.78,14,1.4,11.5,.78,17,1.15]];

const panels=[
{name:'ltgp',ticks:ltgpTicks,tops:ltgpTops,solid:ltgpSolid,hits:ltgpHits,threshold:3.02,axisX:197,sx:3.97,y0:475.6,unit:74.4,ymax:5,lineEnd:1789,bandY:490,labelY:522,tickLen:10,r:4.2,fs:14},
{name:'rgp',ticks:rgpTicks,tops:rgpTops,solid:rgpSolid,hits:rgpHits,threshold:3,axisX:1935,sx:4.547,y0:461,unit:70.8,ymax:6,lineEnd:3755,bandY:478,labelY:512,tickLen:11,r:5,fs:15},
{name:'plr',ticks:plrTicks,tops:plrTops,solid:plrSolid,hits:plrHits,threshold:3.02,axisX:200,sx:3.97,y0:1173.7,unit:74.4,ymax:5,lineEnd:1794,bandY:1187.5,labelY:1218,tickLen:10,r:4.2,fs:14},
{name:'plrr',ticks:plrrTicks,tops:plrrTops,solid:plrrSolid,hits:plrrHits,threshold:3,axisX:1933.5,sx:4.547,y0:1181.4,unit:74.2,ymax:5,lineEnd:3754,bandY:1195.6,labelY:1226,tickLen:10,r:5,fs:15},
{name:'rpl',ticks:rplTicks,tops:rplTops,solid:rplSolid,hits:rplHits,threshold:3,axisX:197.8,sx:3.97,y0:1920.7,unit:74.2,ymax:5,lineEnd:1786,bandY:1935,labelY:1966,tickLen:10,r:4.2,fs:14},
{name:'rapl',ticks:raplTicks,tops:raplTops,solid:raplSolid,hits:raplHits,threshold:2.95,axisX:1932,sx:4.6,y0:1887,unit:61.9,ymax:8.9,lineEnd:3773,bandY:1909.7,labelY:1955,tickLen:13,r:6,fs:16}
];

const NS='http://www.w3.org/2000/svg';
const root=document.getElementById('panels');
/* fixed drawing offsets that stop the stacked dots from forming a lattice */
const scatterPattern=[0,.7,-.5,.3,-.8,.5,-.2,.9,-.6];
const maxDotsPerColumn=40;
function make(tag,attrs,parent){
  const el=document.createElementNS(NS,tag);
  for(const k in attrs){el.setAttribute(k,attrs[k]);}
  parent.appendChild(el);
  return el;
}
function chrStart(i){
  let s=3;
  for(let k=0;k<i;k++){s+=chrLengths[k]+2;}
  return s;
}
panels.forEach(function(p){
  const g=make('g',{},root);
  
  
  const xOf=function(i,mb){return p.axisX+(chrStart(i)+mb)*p.sx;};
  const yOf=function(v){return p.y0-v*p.unit;};

  chrNames.forEach(function(name,i){
    const len=chrLengths[i];
    const color=chrColors[i];
    const left=xOf(i,0)+p.r;
    const right=xOf(i,len)-p.r;
    const clampX=function(x){return Math.max(left,Math.min(right,x));};
    const cg=make('g',{fill:color},g);
    
    
    const solid=p.solid[i];
    solid.forEach(function(v,b){
      const x1=xOf(i,b/solid.length*len)-(b===0?0:0.5);
      const x2=xOf(i,(b+1)/solid.length*len)+(b===solid.length-1?0:0.5);
      const h=v*0.95;
      const bar=make('rect',{x:x1,y:yOf(h),width:x2-x1,height:p.y0+3-yOf(h)},cg);
      
      
    });
    const tops=p.tops[i];
    const baseStep=1.4*p.r/p.unit;
    tops.forEach(function(top,c){
      const mb=(c+0.5)/tops.length*len;
      const floor=0.95*solid[Math.min(solid.length-1,Math.floor((c+0.5)/tops.length*solid.length))];
      let v=top;
      for(let k=0;k<maxDotsPerColumn&&v>floor-baseStep;k++){
        const pa=scatterPattern[(k+c*4)%9];
        const pb=scatterPattern[(k*2+c)%9];
        const dx=k===0?0:pa*p.r*1.0;
        const dy=k===0?0:pb*p.r*0.6;
        const dot=make('circle',{cx:clampX(xOf(i,mb)+dx),cy:yOf(v)+dy,r:p.r},cg);
        
        
        const frac=top>floor?Math.max(0,Math.min(1,(v-floor)/(top-floor))):0;
        v-=baseStep*(0.65+0.7*frac);
      }
    });
    const hits=p.hits[i];
    for(let h=0;h<hits.length;h+=2){
      const dot=make('circle',{cx:clampX(xOf(i,hits[h])),cy:yOf(hits[h+1]),r:p.r},cg);
      
      
    }
  });

  const yAxis=make('line',{x1:p.axisX,x2:p.axisX,y1:yOf(p.ymax),y2:yOf(0),stroke:'#777','stroke-width':2.5},g);
  
  
  p.ticks.forEach(function(t){
    const tick=make('line',{x1:p.axisX-9,x2:p.axisX,y1:yOf(t),y2:yOf(t),stroke:'#777','stroke-width':2},g);
    
    
    const label=make('text',{class:'tk',x:p.axisX-21,y:yOf(t)+p.fs*0.36,'font-size':p.fs,'text-anchor':'middle'},g);
    
    
    label.textContent=t;
  });

  const band=make('line',{x1:p.axisX,x2:p.axisX+400*p.sx,y1:p.bandY,y2:p.bandY,stroke:'#9a9a9a','stroke-width':3.5},g);
  
  
  const chrTick=make('line',{x1:p.axisX,x2:p.axisX,y1:p.bandY,y2:p.bandY+p.tickLen,stroke:'#777','stroke-width':2},g);
  
  
  const chrLabel=make('text',{class:'tk',x:p.axisX,y:p.labelY,'font-size':p.fs,'text-anchor':'middle'},g);
  
  
  chrLabel.textContent='Chr';
  chrNames.forEach(function(name,i){
    const cx=xOf(i,chrLengths[i]/2);
    const tick=make('line',{x1:cx,x2:cx,y1:p.bandY,y2:p.bandY+p.tickLen,stroke:'#777','stroke-width':2},g);
    
    
    const label=make('text',{class:'tk',x:cx,y:p.labelY,'font-size':p.fs,'text-anchor':'middle'},g);
    
    
    label.textContent=name;
  });

  const red=make('line',{x1:p.axisX,x2:p.lineEnd,y1:yOf(p.threshold),y2:yOf(p.threshold),stroke:'#ee4a52','stroke-width':4,'stroke-opacity':0.9},g);
  
  
});
</script>
</body>
</html>
